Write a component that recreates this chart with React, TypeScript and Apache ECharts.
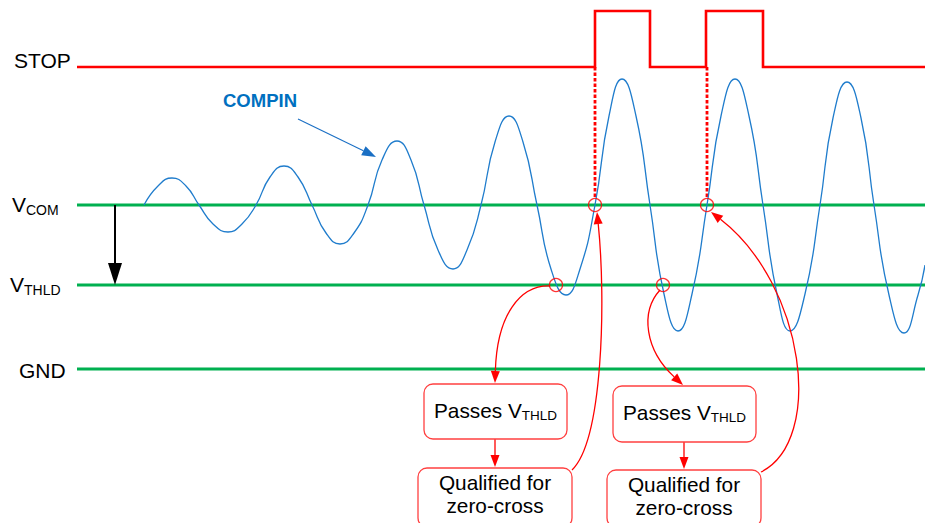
import React, { useEffect, useRef } from "react";
import * as echarts from "echarts";

// Axes: time (horizontal, arbitrary units) and level relative to VCOM (vertical)
const timeMin = 0;
const timeMax = 925;
const levelMin = -318;
const levelMax = 205;

// Reference levels
const levelValues = [0, -80, -164]; // VCOM, VTHLD, GND
const levelStartTime = 77;
const levelEndTime = 925;

// STOP digital signal
const stopTimes = [77, 595, 595, 650, 650, 706, 706, 763, 763, 925];
const stopLevels = [138, 138, 194, 194, 138, 138, 194, 194, 138, 138];

// COMPIN analog signal
const compinTimes = [
  144, 158, 172, 186, 199,
  213, 228, 242, 256,
  270, 284, 298, 312,
  326, 340, 354, 368,
  382, 397, 411, 424,
  438, 453, 467, 481,
  495, 509, 523, 537,
  551, 566, 580, 595,
  609, 622, 636, 650,
  664, 678, 692, 707,
  721, 735, 749, 763,
  777, 790, 805, 820,
  833, 847, 861, 874,
  889, 904, 918, 925,
];
const compinLevels = [
  0, 19, 27, 19, 0,
  -19, -27, -19, 0,
  28, 39, 28, 0,
  -28, -39, -28, 0,
  45, 64, 45, 0,
  -45, -64, -45, 0,
  63, 89, 63, 0,
  -64, -90, -64, 0,
  89, 126, 89, 0,
  -89, -126, -89, 0,
  89, 126, 89, 0,
  -89, -126, -89, 0,
  87, 123, 87, 0,
  -90, -128, -90, -60,
];

// Crossing markers
const markTimes = [556, 595, 663, 707];
const markLevels = [-80, 0, -80, 0];

// Dotted trigger lines (STOP rising edge to VCOM crossing)
const triggerTimes = [595, 707];
const triggerFrom = 138;
const triggerTo = 6;

// Arrows: [x1, y1, cp1x, cp1y, cp2x, cp2y, x2, y2]
const redArrows = [
  [550, -81, 520, -80, 497, -110, 495, -178],
  [495, -234, 495, -234, 495, -234, 495, -262],
  [572, -265, 603, -235, 606, -95, 597, -7],
  [660, -85, 640, -107, 645, -145, 683, -180],
  [684, -237, 684, -237, 684, -237, 684, -264],
  [761, -267, 825, -235, 805, -80, 711, -7],
];
const blueArrows = [[298, 86, 298, 86, 298, 86, 376, 48]];
const blackArrows = [[115, 0, 115, 0, 115, 0, 115, -80]];

// Callout boxes: [x1, yTop, x2, yBottom]
const boxes = [
  [424, -179, 567, -234],
  [418, -263, 572, -322],
  [613, -181, 756, -237],
  [607, -265, 761, -322],
];
const boxTexts = [
  "{m|Passes V}{s|THLD}",
  "Qualified for\nzero-cross",
  "{m|Passes V}{s|THLD}",
  "Qualified for\nzero-cross",
];
const boxTextLevels = [-205, -289, -207.5, -291];

// Side labels
const labelTexts = ["STOP", "{m|V}{s|COM}", "{m|V}{s|THLD}", "GND"];
const labelTimes = [14, 12, 10, 19];
const labelLevels = [144.5, 0.5, -79.5, -165];

const compinLabel = "COMPIN";
const compinLabelTime = 223;
const compinLabelLevel = 105;

const FONT = "'Liberation Sans', Arial, Helvetica, sans-serif";
const RED = "#ff0000";
const GREEN = "#00b050";
const BLUE = "#1f7ccc";

function arrowRenderer(color: string, width: number, headLen: number, headWidth: number) {
  return (_params: any, api: any) => {
    const pts = [0, 2, 4, 6].map((i) => api.coord([api.value(i), api.value(i + 1)]));
    const [p0, c1, c2, p3] = pts;
    let dx = p3[0] - c2[0];
    let dy = p3[1] - c2[1];
    const len = Math.hypot(dx, dy) || 1;
    dx /= len;
    dy /= len;
    const bx = p3[0] - dx * headLen;
    const by = p3[1] - dy * headLen;
    const nx = (-dy * headWidth) / 2;
    const ny = (dx * headWidth) / 2;
    return {
      type: "group",
      children: [
        {
          type: "bezierCurve",
          shape: {
            x1: p0[0], y1: p0[1],
            cpx1: c1[0], cpy1: c1[1],
            cpx2: c2[0], cpy2: c2[1],
            x2: bx, y2: by,
          },
          style: { stroke: color, lineWidth: width, fill: "none" },
        },
        {
          type: "polygon",
          shape: { points: [[p3[0], p3[1]], [bx + nx, by + ny], [bx - nx, by - ny]] },
          style: { fill: color, stroke: "none" },
        },
      ],
    };
  };
}

function buildOption(): any {
  const series: any[] = [];

  levelValues.forEach((v, i) => {
    series.push({
      type: "line",
      name: "level" + i,
      data: [[levelStartTime, v], [levelEndTime, v]],
      symbol: "none",
      lineStyle: { color: GREEN, width: 3 },
      z: 1,
    });
  });

  series.push({
    type: "line",
    name: "STOP",
    data: stopTimes.map((t, i) => [t, stopLevels[i]]),
    symbol: "none",
    lineStyle: { color: RED, width: 2.6, join: "miter" },
    z: 2,
  });

  triggerTimes.forEach((t, i) => {
    series.push({
      type: "line",
      name: "trigger" + i,
      data: [[t, triggerFrom], [t, triggerTo]],
      symbol: "none",
      lineStyle: { color: RED, width: 2.8, type: [3.5, 2] },
      z: 2,
    });
  });

  series.push({
    type: "line",
    name: "COMPIN",
    data: compinTimes.map((t, i) => [t, compinLevels[i]]),
    symbol: "none",
    smooth: 0.5,
    lineStyle: { color: BLUE, width: 1.3 },
    z: 3,
  });

  series.push({
    type: "scatter",
    name: "marks",
    data: markTimes.map((t, i) => [t, markLevels[i]]),
    symbol: "circle",
    symbolSize: 13,
    itemStyle: { color: "rgba(0,0,0,0)", borderColor: RED, borderWidth: 1.3 },
    z: 4,
  });

  series.push({
    type: "custom",
    name: "redArrows",
    data: redArrows,
    renderItem: arrowRenderer(RED, 1.3, 12, 9),
    z: 5,
  });
  series.push({
    type: "custom",
    name: "blueArrows",
    data: blueArrows,
    renderItem: arrowRenderer("#1a6fc4", 1.1, 14, 10),
    z: 5,
  });
  series.push({
    type: "custom",
    name: "blackArrows",
    data: blackArrows,
    renderItem: arrowRenderer("#000000", 2, 22, 14),
    z: 5,
  });

  const subRich = (main: number, sub: number) => ({
    m: { fontSize: main, lineHeight: 24, fontFamily: FONT, fill: "#000", color: "#000" },
    s: {
      fontSize: sub,
      lineHeight: sub,
      padding: [24 - sub, 0, 0, 0],
      fontFamily: FONT,
      fill: "#000",
      color: "#000",
    },
  });

  series.push({
    type: "custom",
    name: "boxes",
    data: boxes,
    renderItem: (params: any, api: any) => {
      const a = api.coord([api.value(0), api.value(1)]);
      const b = api.coord([api.value(2), api.value(3)]);
      const i = params.dataIndex;
      const c = api.coord([(api.value(0) + api.value(2)) / 2, boxTextLevels[i]]);
      return {
        type: "group",
        children: [
          {
            type: "rect",
            shape: { x: a[0], y: a[1], width: b[0] - a[0], height: b[1] - a[1], r: 9 },
            style: { fill: "#ffffff", stroke: "#ff4040", lineWidth: 1.3 },
          },
          {
            type: "text",
            x: c[0],
            y: c[1],
            style: {
              text: boxTexts[i],
              fill: "#000",
              align: "center",
              verticalAlign: "middle",
              fontFamily: FONT,
              fontSize: 20.8,
              lineHeight: 23,
              rich: subRich(20.8, 13.5),
            },
          },
        ],
      };
    },
    z: 6,
  });

  series.push({
    type: "custom",
    name: "labels",
    data: labelTimes.map((t, i) => [t, labelLevels[i]]),
    renderItem: (params: any, api: any) => {
      const p = api.coord([api.value(0), api.value(1)]);
      return {
        type: "text",
        x: p[0],
        y: p[1],
        style: {
          text: labelTexts[params.dataIndex],
          fill: "#000",
          align: "left",
          verticalAlign: "middle",
          fontFamily: FONT,
          fontSize: 21,
          rich: subRich(21, 14),
        },
      };
    },
    z: 6,
  });

  series.push({
    type: "custom",
    name: "compinLabel",
    data: [[compinLabelTime, compinLabelLevel]],
    renderItem: (_params: any, api: any) => {
      const p = api.coord([api.value(0), api.value(1)]);
      return {
        type: "text",
        x: p[0],
        y: p[1],
        style: {
          text: compinLabel,
          fill: "#0070c0",
          align: "left",
          verticalAlign: "middle",
          fontFamily: FONT,
          fontWeight: "bold",
          fontSize: 18.5,
        },
      };
    },
    z: 6,
  });

  return {
    animation: false,
    backgroundColor: "#ffffff",
    grid: { left: 0, right: 0, top: 0, bottom: 0, containLabel: false },
    xAxis: { type: "value", min: timeMin, max: timeMax, show: false },
    yAxis: { type: "value", min: levelMin, max: levelMax, show: false },
    series,
  };
}

export default function App() {
  const ref = useRef<HTMLDivElement>(null);
  useEffect(() => {
    document.body.style.margin = "0";
    const chart = echarts.init(ref.current as HTMLDivElement, null, { renderer: "svg" });
    chart.setOption(buildOption());
    return () => chart.dispose();
  }, []);
  return <div ref={ref} style={{ width: 925, height: 523 }} />;
}
